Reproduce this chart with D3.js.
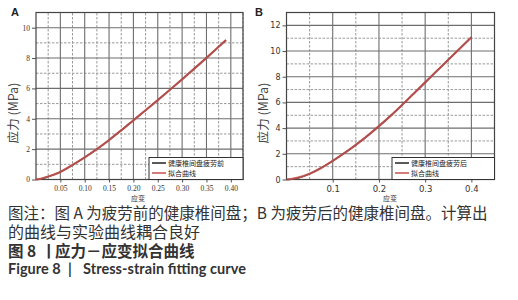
<!DOCTYPE html>
<html><head><meta charset="utf-8">
<script src="https://cdn.jsdelivr.net/npm/d3@7"></script>
<style>body{margin:0;background:#fff}svg{display:block}</style>
</head><body>
<svg id="c" width="518" height="300"></svg>
<script>
// ---- data ----
const strainA = [0, 0.01, 0.025, 0.05, 0.075, 0.1, 0.125, 0.15, 0.175, 0.2, 0.225, 0.25, 0.275, 0.3, 0.325, 0.35, 0.375, 0.39];
const expA    = [0, 0.04, 0.19, 0.5, 0.95, 1.45, 2.0, 2.6, 3.24, 3.9, 4.56, 5.23, 5.91, 6.6, 7.3, 8.01, 8.74, 9.18];
const fitA    = [0, 0.05, 0.2, 0.5, 0.96, 1.46, 2.0, 2.6, 3.24, 3.9, 4.56, 5.23, 5.91, 6.6, 7.3, 8.01, 8.74, 9.18];
const strainB = [0, 0.01, 0.025, 0.05, 0.075, 0.1, 0.125, 0.15, 0.175, 0.2, 0.225, 0.25, 0.275, 0.3, 0.325, 0.35, 0.375, 0.4];
const expB    = [0, 0.02, 0.12, 0.44, 0.9, 1.45, 2.05, 2.7, 3.4, 4.15, 4.95, 5.8, 6.68, 7.56, 8.44, 9.32, 10.2, 11.08];
const fitB    = [0, 0.04, 0.15, 0.45, 0.9, 1.45, 2.05, 2.7, 3.4, 4.15, 4.95, 5.8, 6.68, 7.56, 8.44, 9.32, 10.2, 11.08];
const xTicksA = [0.05, 0.10, 0.15, 0.20, 0.25, 0.30, 0.35, 0.40];
const xTicksB = [0.1, 0.2, 0.3, 0.4];
const yTicksA = [0, 2, 4, 6, 8, 10];
const yTicksB = [0, 2, 4, 6, 8, 10, 12];
const legendA = ["健康椎间盘疲劳前", "拟合曲线"];
const legendB = ["健康椎间盘疲劳后", "拟合曲线"];
const captionNote = ["图注：图 A 为疲劳前的健康椎间盘；B 为疲劳后的健康椎间盘。计算出", "的曲线与实验曲线耦合良好"];
const captionCN = ["图 8", "丨", "应力－应变拟合曲线"];
const captionEN = ["Figure 8", "|", "Stress-strain fitting curve"];

const svg = d3.select("#c");
const CJK = "'Noto Sans CJK SC', sans-serif";

function panel(o) {
  const g = svg.append("g");
  const x = d3.scaleLinear().domain(o.xDom).range(o.xRange);
  const y = d3.scaleLinear().domain(o.yDom).range(o.yRange);
  const [x0, x1] = o.xRange, [y0, y1] = o.yRange;
  // minor grid
  g.selectAll(".mx").data(d3.range(o.xMinor, o.xDom[1] + 1e-9, o.xMinor * 2)).join("line")
    .attr("x1", d => x(d)).attr("x2", d => x(d)).attr("y1", y0).attr("y2", y1)
    .attr("stroke", "#9a9a9a").attr("stroke-width", 1).attr("stroke-dasharray", "2.5,1.5");
  g.selectAll(".my").data(d3.range(1, o.yDom[1] + 1e-9, 2)).join("line")
    .attr("y1", d => y(d)).attr("y2", d => y(d)).attr("x1", x0).attr("x2", x1)
    .attr("stroke", "#9a9a9a").attr("stroke-width", 1).attr("stroke-dasharray", "2.5,1.5");
  // major grid
  g.selectAll(".Mx").data(o.xTicks).join("line")
    .attr("x1", d => x(d)).attr("x2", d => x(d)).attr("y1", y0).attr("y2", y1)
    .attr("stroke", "#6e6e6e").attr("stroke-width", 1.1);
  g.selectAll(".My").data(o.yTicks.filter(d => d > 0)).join("line")
    .attr("y1", d => y(d)).attr("y2", d => y(d)).attr("x1", x0).attr("x2", x1)
    .attr("stroke", "#6e6e6e").attr("stroke-width", 1.1);
  // axes
  const ax = g.append("g").attr("transform", `translate(0,${y0})`)
    .call(d3.axisBottom(x).tickValues(o.xTicks).tickFormat(d3.format(o.fmt)).tickSize(3).tickPadding(3));
  const ay = g.append("g").attr("transform", `translate(${x0},0)`)
    .call(d3.axisLeft(y).tickValues(o.yTicks).tickSize(4).tickPadding(2));
  [ax, ay].forEach(a => {
    a.select(".domain").remove();
    a.selectAll("line").attr("stroke", "#555");
    a.selectAll("text").attr("font-family", o.tickFont).attr("fill", "#333");
  });
  ax.selectAll("text").attr("font-size", o.xTickSize);
  ay.selectAll("text").attr("font-size", o.yTickSize);
  // frame
  g.append("rect").attr("x", x0).attr("y", y1).attr("width", x1 - x0).attr("height", y0 - y1)
    .attr("fill", "none").attr("stroke", "#444").attr("stroke-width", 1.2);
  // curves
  const line = d3.line().x((d, i) => x(o.strain[i])).y(d => y(d)).curve(d3.curveMonotoneX);
  g.append("path").datum(o.exp).attr("d", line).attr("fill", "none").attr("stroke", "#222").attr("stroke-width", 1.5);
  g.append("path").datum(o.fit).attr("d", line).attr("fill", "none").attr("stroke", "#c4524f").attr("stroke-width", 2.2).attr("stroke-opacity", 0.88);
  // legend
  const lx = o.legX, ly = y0 - 22;
  g.append("rect").attr("x", lx).attr("y", ly).attr("width", x1 - lx).attr("height", 22)
    .attr("fill", "#fff").attr("stroke", "#333").attr("stroke-width", 1);
  const cols = ["#222", "#c4524f"];
  o.legend.forEach((t, i) => {
    const yy = ly + 5.5 + i * 10;
    g.append("line").attr("x1", lx + 3).attr("x2", lx + 17).attr("y1", yy).attr("y2", yy)
      .attr("stroke", cols[i]).attr("stroke-width", 1.5);
    g.append("text").attr("x", lx + 19).attr("y", yy + 2.6).text(t)
      .attr("font-family", CJK).attr("font-size", 7).attr("fill", "#222");
  });
  // labels
  g.append("text").attr("transform", `translate(${o.ylabX},113) rotate(-90)`).attr("text-anchor", "middle")
    .attr("font-family", CJK).attr("font-size", 12.5).attr("fill", "#444").text("应力 (MPa)");
  g.append("text").attr("x", o.xlabX).attr("y", 201).attr("text-anchor", "middle")
    .attr("font-family", CJK).attr("font-size", 7).attr("fill", "#333").text("应变");
  g.append("text").attr("x", o.panX).attr("y", 16).attr("font-family", "'Liberation Sans', Arial, sans-serif")
    .attr("font-weight", "bold").attr("font-size", 11).attr("fill", "#222").text(o.name);
}

panel({name: "A", panX: 11, xDom: [0, 0.425], xRange: [36, 243], yDom: [0, 11], yRange: [179.5, 12.5],
  xTicks: xTicksA, yTicks: yTicksA, xMinor: 0.025, fmt: ".2f", strain: strainA, exp: expA, fit: fitA,
  legend: legendA, legX: 149, ylabX: 18, xlabX: 138, tickFont: "'Liberation Serif', serif", xTickSize: 7.5, yTickSize: 7.5});
panel({name: "B", panX: 255, xDom: [0, 0.45], xRange: [286.5, 494.5], yDom: [0, 13], yRange: [179.5, 12.5],
  xTicks: xTicksB, yTicks: yTicksB, xMinor: 0.05, fmt: ".1f", strain: strainB, exp: expB, fit: fitB,
  legend: legendB, legX: 392, ylabX: 268, xlabX: 390, tickFont: "'DejaVu Sans', sans-serif", xTickSize: 8.5, yTickSize: 8});

// captions
const cap = svg.append("g");
cap.append("text").attr("x", 8).attr("y", 219).text(captionNote[0]).attr("font-family", CJK).attr("font-size", 15.5).attr("fill", "#333");
cap.append("text").attr("x", 8).attr("y", 238).text(captionNote[1]).attr("font-family", CJK).attr("font-size", 16).attr("fill", "#333");
const cnX = [8, 41, 55];
captionCN.forEach((t, i) => cap.append("text").attr("x", cnX[i]).attr("y", 257).text(t)
  .attr("font-family", CJK).attr("font-size", 15.5).attr("font-weight", "bold").attr("fill", "#333"));
const enX = [8, 68, 83];
captionEN.forEach((t, i) => {
  const tx = cap.append("text").attr("x", enX[i]).attr("y", 274).text(t)
    .attr("font-family", "Lato, 'Open Sans', sans-serif").attr("font-size", 14.5).attr("font-weight", "bold").attr("fill", "#333");
  if (i === 2) tx.attr("textLength", 163).attr("lengthAdjust", "spacing");
});
</script>
</body></html>
